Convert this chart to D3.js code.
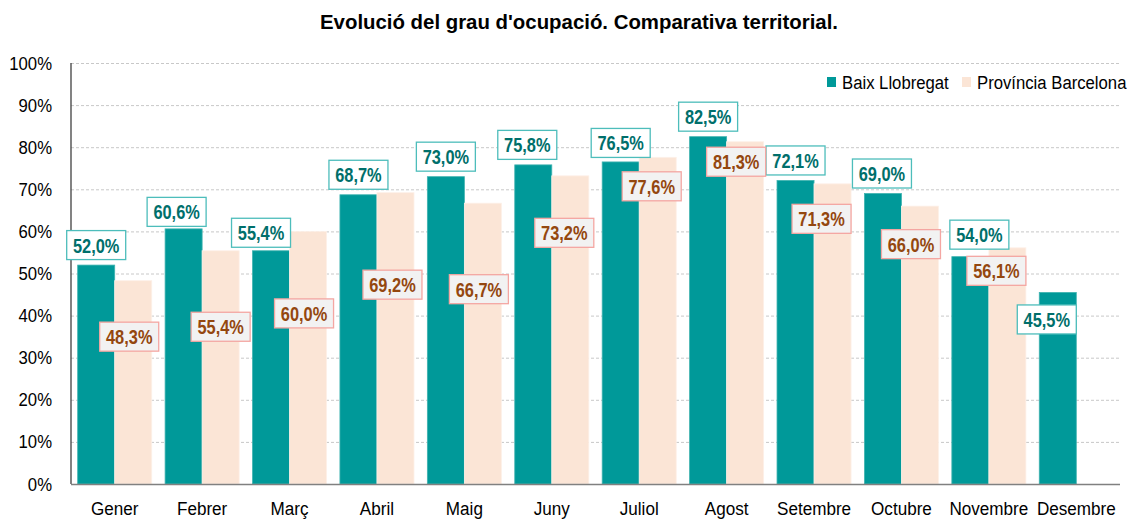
<!DOCTYPE html>
<html>
<head>
<meta charset="utf-8">
<script src="https://cdn.jsdelivr.net/npm/d3@7"></script>
<style>
  html, body { margin: 0; padding: 0; background: #fff; }
  #chart { width: 1131px; height: 519px; }
</style>
</head>
<body>
<div id="chart"></div>
<script>
// dades
const months = ['Gener', 'Febrer', 'Març', 'Abril', 'Maig', 'Juny', 'Juliol', 'Agost', 'Setembre', 'Octubre', 'Novembre', 'Desembre'];
const seriesNames = ['Baix Llobregat', 'Província Barcelona'];
const baixLlobregat = [52.0, 60.6, 55.4, 68.7, 73.0, 75.8, 76.5, 82.5, 72.1, 69.0, 54.0, 45.5];
const provBarcelona = [48.3, 55.4, 60.0, 69.2, 66.7, 73.2, 77.6, 81.3, 71.3, 66.0, 56.1, null];
const yTicks = [0, 10, 20, 30, 40, 50, 60, 70, 80, 90, 100];

// posicio manual de les etiquetes (px respecte al centre de la barra / al cim)
const tealLabelDx = [0, -7, -10, 0, 0, -6, 0, 0, 0, -1, 9, -11];
const tealLabelDy = [-20, -17, -18, -20, -20, -20, -19, -20, -20, -20, -22, 27];
const provLabelDx = [-4, 0, -4, -3, -4, -6, -6, -9, -11, -9, -11, 0];
const provLabelDy = [56, 76, 82, 92, 86, 57, 29, 20, 35, 38, 23, 0];

const W = 1131, H = 519;
const margin = { left: 71, right: 11, top: 63, bottom: 35 };
const FONT = "'Liberation Sans', Arial, sans-serif";
const teal = '#009999', peach = '#fbe5d6';

const locale = d3.formatLocale({ decimal: ',', thousands: '.', grouping: [3], currency: ['', '€'] });
const fmt = v => locale.format('.1f')(v) + '%';

// no hi ha Arial Narrow: s'estreny el text horitzontalment
const condense = (sel, k) => sel.attr('transform', function () {
  const x = +this.getAttribute('x') || 0;
  return `translate(${x * (1 - k)},0) scale(${k},1)`;
});

const svg = d3.select('#chart')
  .append('svg')
  .attr('width', W)
  .attr('height', H)
  .attr('font-family', FONT);

const x0 = d3.scaleBand()
  .domain(months)
  .range([margin.left, W - margin.right])
  .paddingInner(0.153)
  .paddingOuter(0.0765);

const x1 = d3.scaleBand()
  .domain(seriesNames)
  .range([0, x0.bandwidth()]);

const y = d3.scaleLinear()
  .domain([0, 100])
  .range([H - margin.bottom, margin.top]);

// titol
svg.append('text')
  .attr('x', 579)
  .attr('y', 29)
  .attr('text-anchor', 'middle')
  .attr('font-size', 21)
  .attr('font-weight', 'bold')
  .attr('fill', '#000')
  .attr('textLength', 518)
  .attr('lengthAdjust', 'spacingAndGlyphs')
  .text("Evolució del grau d'ocupació. Comparativa territorial.");

// graella
const yAxis = d3.axisLeft(y)
  .tickValues(yTicks)
  .tickFormat(d => d + '%')
  .tickSize(-(W - margin.right - margin.left))
  .tickPadding(19);

const gy = svg.append('g')
  .attr('transform', `translate(${margin.left},0)`)
  .call(yAxis);
gy.select('.domain').remove();
gy.selectAll('.tick line')
  .attr('stroke', '#c8c8c8')
  .attr('stroke-dasharray', '3,2')
  .filter(d => d === 0).remove();
gy.selectAll('.tick text')
  .attr('font-size', 19)
  .attr('font-family', FONT)
  .attr('fill', '#000')
  .call(condense, 0.88);

// barres
const groups = svg.append('g')
  .selectAll('g')
  .data(months)
  .join('g')
  .attr('transform', d => `translate(${x0(d)},0)`);

groups.append('rect')
  .attr('x', x1(seriesNames[0]))
  .attr('y', (d, i) => y(baixLlobregat[i]))
  .attr('width', x1.bandwidth())
  .attr('height', (d, i) => y(0) - y(baixLlobregat[i]))
  .attr('fill', teal)
  .attr('stroke', '#3fb3b0')
  .attr('stroke-width', 0.8);

groups.filter((d, i) => provBarcelona[i] != null)
  .append('rect')
  .attr('x', x1(seriesNames[1]))
  .attr('y', d => y(provBarcelona[months.indexOf(d)]))
  .attr('width', x1.bandwidth())
  .attr('height', d => y(0) - y(provBarcelona[months.indexOf(d)]))
  .attr('fill', peach)
  .attr('stroke', '#fdf0e8')
  .attr('stroke-width', 0.8);

// eixos
svg.append('line')
  .attr('x1', margin.left).attr('x2', margin.left)
  .attr('y1', y(100)).attr('y2', y(0))
  .attr('stroke', '#404040').attr('stroke-width', 1.3);

const xAxis = d3.axisBottom(x0).tickSize(0).tickPadding(18);
const gx = svg.append('g')
  .attr('transform', `translate(0,${y(0)})`)
  .call(xAxis);
gx.select('.domain')
  .attr('d', `M${margin.left},0.5H${W - margin.right}`)
  .attr('stroke', '#808080')
  .attr('stroke-width', 1.5);
gx.selectAll('.tick text')
  .attr('font-size', 19)
  .attr('font-family', FONT)
  .attr('fill', '#000')
  .call(condense, 0.9);

// etiquetes
const boxW = 59, boxH = 29;
function addLabel(cx, cy, text, fill, stroke, color) {
  const g = svg.append('g').attr('transform', `translate(${cx},${cy})`);
  g.append('rect')
    .attr('x', -boxW / 2).attr('y', -boxH / 2)
    .attr('width', boxW).attr('height', boxH)
    .attr('fill', fill)
    .attr('stroke', stroke)
    .attr('stroke-width', 1.3);
  g.append('text')
    .attr('text-anchor', 'middle')
    .attr('dy', '0.36em')
    .attr('font-size', 21)
    .attr('font-weight', 'bold')
    .attr('fill', color)
    .text(text)
    .call(condense, 0.78);
}

months.forEach((m, i) => {
  const v = baixLlobregat[i];
  addLabel(x0(m) + x1(seriesNames[0]) + x1.bandwidth() / 2 + tealLabelDx[i],
    y(v) + tealLabelDy[i], fmt(v), '#ffffff', '#4dbdbb', '#006f6b');
});
months.forEach((m, i) => {
  const v = provBarcelona[i];
  if (v == null) return;
  addLabel(x0(m) + x1(seriesNames[1]) + x1.bandwidth() / 2 + provLabelDx[i],
    y(v) + provLabelDy[i], fmt(v), '#f2f2f2', '#f4a6a2', '#94470f');
});

// llegenda
const legend = svg.append('g').attr('transform', 'translate(827,82)');
const legendX = [0, 135];
const legendColors = [teal, peach];
seriesNames.forEach((s, i) => {
  legend.append('rect')
    .attr('x', legendX[i]).attr('y', -5)
    .attr('width', 9).attr('height', 10)
    .attr('fill', legendColors[i]);
  legend.append('text')
    .attr('x', legendX[i] + 15)
    .attr('dy', '0.35em')
    .attr('font-size', 19)
    .attr('fill', '#000')
    .text(s)
    .call(condense, 0.88);
});
</script>
</body>
</html>
